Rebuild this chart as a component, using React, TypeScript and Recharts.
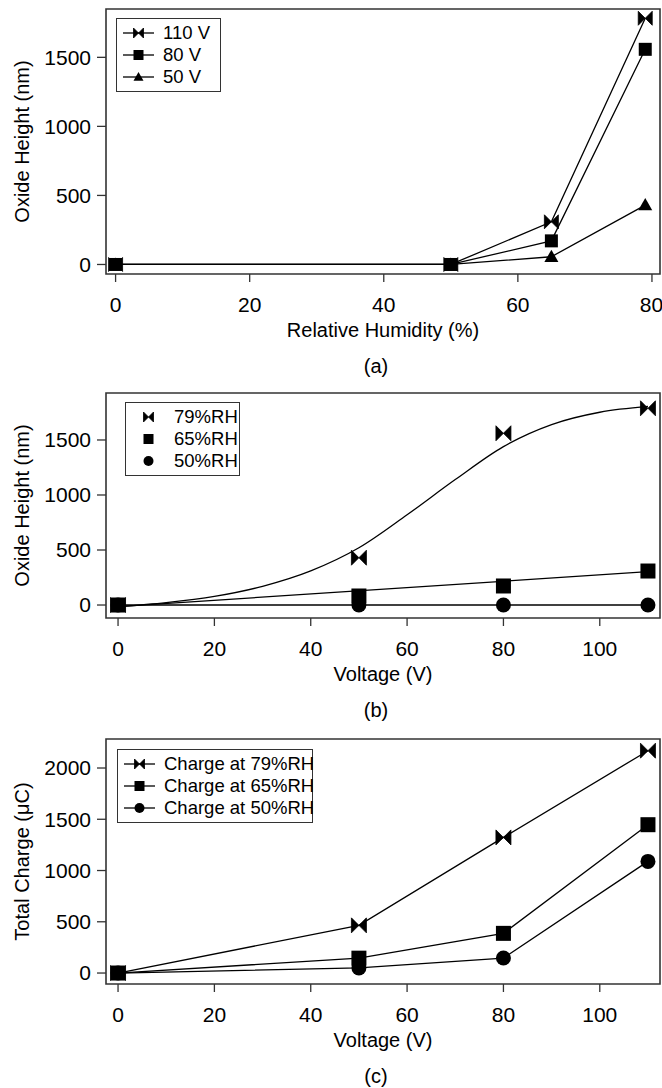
import { LineChart, Line, XAxis, YAxis, ReferenceArea, Legend } from 'recharts';

const FONT = '"Liberation Sans", Arial, Helvetica, sans-serif';
const INK = '#000';
const FRAME = '#333';

// (a) oxide height vs relative humidity, one series per voltage
const HUMIDITY = [0, 50, 65, 79];
const HEIGHT_110V = [0, 0, 309, 1783];
const HEIGHT_80V = [0, 0, 171, 1558];
const HEIGHT_50V = [0, 0, 56, 430];
const HUMIDITY_TICKS = [0, 20, 40, 60, 80];

// (b) oxide height vs voltage, points plus fitted curves
const VOLTAGE = [0, 50, 80, 110];
const HEIGHT_79RH = [0, 430, 1561, 1788];
const HEIGHT_65RH = [0, 82, 173, 309];
const HEIGHT_50RH = [0, 0, 0, 0];
const FIT_79RH_V = [0, 10, 20, 30, 40, 50, 60, 70, 80, 90, 100, 110];
const FIT_79RH = [-15, 22, 78, 170, 310, 520, 820, 1140, 1440, 1640, 1752, 1805];
const FIT_LINE_V = [0, 110];
const FIT_65RH = [-15, 303];
const FIT_50RH = [0, 0];

// (c) total charge vs voltage
const CHARGE_79RH = [0, 465, 1323, 2169];
const CHARGE_65RH = [0, 145, 387, 1447];
const CHARGE_50RH = [0, 50, 146, 1089];

const VOLTAGE_TICKS = [0, 20, 40, 60, 80, 100];
const HEIGHT_TICKS = [0, 500, 1000, 1500];
const CHARGE_TICKS = [0, 500, 1000, 1500, 2000];

type Shape = 'bowtie' | 'square' | 'triangle' | 'circle';

const pts = (xs: number[], ys: number[]) => xs.map((x, i) => ({ x, y: ys[i] }));

function Marker({ shape, cx, cy, r }: { shape: Shape; cx: number; cy: number; r: number }) {
  if (shape === 'bowtie') {
    return (
      <path
        d={`M${cx - r},${cy - r}L${cx},${cy}L${cx - r},${cy + r}Z M${cx + r},${cy - r}L${cx},${cy}L${cx + r},${cy + r}Z`}
        fill={INK}
        stroke={INK}
        strokeWidth={0.8}
      />
    );
  }
  if (shape === 'square') return <rect x={cx - r} y={cy - r} width={2 * r} height={2 * r} fill={INK} />;
  if (shape === 'triangle') {
    return <path d={`M${cx},${cy - r}L${cx + r},${cy + r * 0.75}L${cx - r},${cy + r * 0.75}Z`} fill={INK} />;
  }
  return <circle cx={cx} cy={cy} r={r} fill={INK} />;
}

function dotFor(shape: Shape, r: number) {
  return (props: any) => {
    const { cx, cy, index } = props;
    if (cx == null || cy == null) return <g key={`${shape}-${index}`} />;
    return <Marker key={`${shape}-${index}`} shape={shape} cx={cx} cy={cy} r={r} />;
  };
}

type LegendItem = { label: string; shape: Shape; line: boolean };

function LegendBox({ items, width, iconWidth }: { items: LegendItem[]; width: number; iconWidth: number }) {
  return (
    <div
      style={{
        boxSizing: 'border-box',
        width,
        border: `1.5px solid ${FRAME}`,
        background: '#fff',
        padding: '3px 0 3px 0',
        fontFamily: FONT,
        fontSize: 18.5,
        color: INK,
      }}
    >
      {items.map((it) => (
        <div key={it.label} style={{ display: 'flex', alignItems: 'center', height: 22 }}>
          <svg width={iconWidth} height={22} style={{ flex: 'none' }}>
            {it.line && <line x1={6} x2={iconWidth - 9} y1={11} y2={11} stroke={INK} strokeWidth={1.3} />}
            <Marker shape={it.shape} cx={(iconWidth - 3) / 2} cy={11} r={5} />
          </svg>
          <span style={{ whiteSpace: 'nowrap', lineHeight: '22px' }}>{it.label}</span>
        </div>
      ))}
    </div>
  );
}

type PanelProps = {
  height: number;
  xDomain: [number, number];
  yDomain: [number, number];
  xTicks: number[];
  yTicks: number[];
  xLabel: string;
  yLabel: string;
  legend: { left: number; top: number; width: number; iconWidth: number; items: LegendItem[] };
  children: any;
};

function Panel({ height, xDomain, yDomain, xTicks, yTicks, xLabel, yLabel, legend, children }: PanelProps) {
  const tickStyle = { fontSize: 21, fill: INK, fontFamily: FONT };
  return (
    <LineChart width={662} height={height} margin={{ top: 9, right: 2, bottom: 0, left: 0 }}>
      <XAxis
        type="number"
        dataKey="x"
        domain={xDomain}
        ticks={xTicks}
        allowDataOverflow
        height={75}
        axisLine={false}
        tickSize={8}
        tickMargin={15}
        tickLine={{ stroke: FRAME, strokeWidth: 1.3 }}
        tick={tickStyle}
        label={{ value: xLabel, position: 'insideBottom', offset: 12, style: { fontSize: 20, fill: INK, fontFamily: FONT } }}
      />
      <YAxis
        type="number"
        domain={yDomain}
        ticks={yTicks}
        allowDataOverflow
        width={106}
        axisLine={false}
        tickSize={9}
        tickMargin={6}
        tickLine={{ stroke: FRAME, strokeWidth: 1.3 }}
        tick={tickStyle}
        label={{ value: yLabel, angle: -90, position: 'center', dx: -31, style: { fontSize: 20, fill: INK, fontFamily: FONT } }}
      />
      <ReferenceArea
        x1={xDomain[0]}
        x2={xDomain[1]}
        y1={yDomain[0]}
        y2={yDomain[1]}
        fill="none"
        stroke={FRAME}
        strokeWidth={1.6}
        ifOverflow="visible"
      />
      {children}
      <Legend
        layout="vertical"
        align="center"
        verticalAlign="middle"
        wrapperStyle={{ left: legend.left, top: legend.top, width: 'auto', height: 'auto' }}
        content={() => <LegendBox items={legend.items} width={legend.width} iconWidth={legend.iconWidth} />}
      />
    </LineChart>
  );
}

const lineProps = {
  dataKey: 'y',
  stroke: INK,
  strokeWidth: 1.3,
  isAnimationActive: false,
  activeDot: false,
  legendType: 'none' as const,
};

function Caption({ top, text }: { top: number; text: string }) {
  return (
    <div
      style={{
        position: 'absolute',
        left: 326,
        top: top - 12,
        width: 100,
        textAlign: 'center',
        fontFamily: FONT,
        fontSize: 20,
        lineHeight: '24px',
        color: INK,
      }}
    >
      {text}
    </div>
  );
}

export default function App() {
  return (
    <div style={{ position: 'absolute', left: 0, top: 0, width: 662, height: 1088, background: '#fff' }}>
      <div style={{ position: 'absolute', left: 0, top: 0 }}>
        <Panel
          height={349}
          xDomain={[-1.43, 81.2]}
          yDomain={[-69, 1850]}
          xTicks={HUMIDITY_TICKS}
          yTicks={HEIGHT_TICKS}
          xLabel="Relative Humidity (%)"
          yLabel="Oxide Height (nm)"
          legend={{
            left: 116,
            top: 18,
            width: 105,
            iconWidth: 46,
            items: [
              { label: '110 V', shape: 'bowtie', line: true },
              { label: '80 V', shape: 'square', line: true },
              { label: '50 V', shape: 'triangle', line: true },
            ],
          }}
        >
          <Line {...lineProps} data={pts(HUMIDITY, HEIGHT_110V)} dot={dotFor('bowtie', 7)} />
          <Line {...lineProps} data={pts(HUMIDITY, HEIGHT_50V)} dot={dotFor('triangle', 7)} />
          <Line {...lineProps} data={pts(HUMIDITY, HEIGHT_80V)} dot={dotFor('square', 6.5)} />
        </Panel>
      </div>
      <Caption top={366} text="(a)" />

      <div style={{ position: 'absolute', left: 0, top: 384 }}>
        <Panel
          height={309}
          xDomain={[-2.5, 112.5]}
          yDomain={[-118, 1927]}
          xTicks={VOLTAGE_TICKS}
          yTicks={HEIGHT_TICKS}
          xLabel="Voltage (V)"
          yLabel="Oxide Height (nm)"
          legend={{
            left: 125,
            top: 18,
            width: 115,
            iconWidth: 48,
            items: [
              { label: '79%RH', shape: 'bowtie', line: false },
              { label: '65%RH', shape: 'square', line: false },
              { label: '50%RH', shape: 'circle', line: false },
            ],
          }}
        >
          <Line {...lineProps} data={pts(FIT_79RH_V, FIT_79RH)} type="monotone" dot={false} />
          <Line {...lineProps} data={pts(FIT_LINE_V, FIT_65RH)} dot={false} />
          <Line {...lineProps} data={pts(FIT_LINE_V, FIT_50RH)} dot={false} />
          <Line {...lineProps} data={pts(VOLTAGE, HEIGHT_50RH)} stroke="none" dot={dotFor('circle', 7.5)} />
          <Line {...lineProps} data={pts(VOLTAGE, HEIGHT_79RH)} stroke="none" dot={dotFor('bowtie', 7.5)} />
          <Line {...lineProps} data={pts(VOLTAGE, HEIGHT_65RH)} stroke="none" dot={dotFor('square', 7.5)} />
        </Panel>
      </div>
      <Caption top={710} text="(b)" />

      <div style={{ position: 'absolute', left: 0, top: 730 }}>
        <Panel
          height={329}
          xDomain={[-2.5, 112.5]}
          yDomain={[-107, 2283]}
          xTicks={VOLTAGE_TICKS}
          yTicks={CHARGE_TICKS}
          xLabel="Voltage (V)"
          yLabel="Total Charge (μC)"
          legend={{
            left: 117,
            top: 19,
            width: 196,
            iconWidth: 46,
            items: [
              { label: 'Charge at 79%RH', shape: 'bowtie', line: true },
              { label: 'Charge at 65%RH', shape: 'square', line: true },
              { label: 'Charge at 50%RH', shape: 'circle', line: true },
            ],
          }}
        >
          <Line {...lineProps} data={pts(VOLTAGE, CHARGE_79RH)} dot={dotFor('bowtie', 7.5)} />
          <Line {...lineProps} data={pts(VOLTAGE, CHARGE_50RH)} dot={dotFor('circle', 7.5)} />
          <Line {...lineProps} data={pts(VOLTAGE, CHARGE_65RH)} dot={dotFor('square', 7.5)} />
        </Panel>
      </div>
      <Caption top={1076} text="(c)" />
    </div>
  );
}
